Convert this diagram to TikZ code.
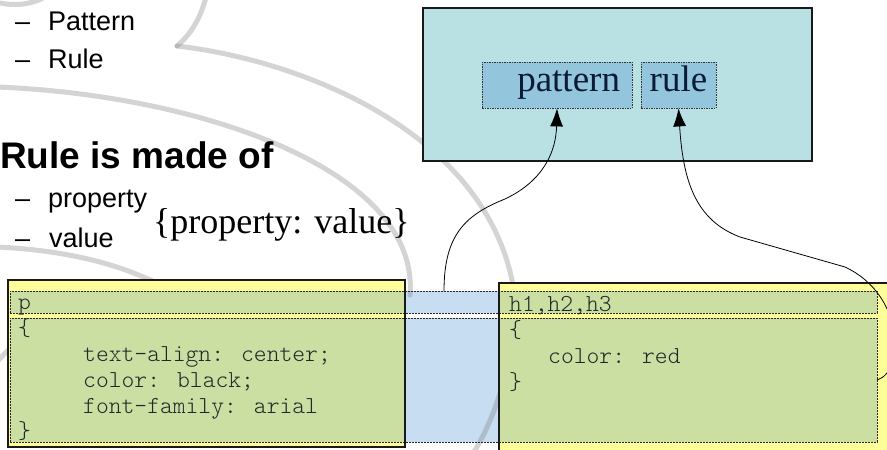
\documentclass[tikz,border=0pt]{standalone}
\usepackage{fontspec}
\setmainfont{Liberation Serif}
\newfontfamily\sansf{Liberation Sans}
\newfontfamily\codef{Latin Modern Mono Light}
\usetikzlibrary{arrows.meta}
\definecolor{tealbg}{HTML}{B9E0E2}
\definecolor{patfill}{HTML}{93C6DD}
\definecolor{yellowbg}{HTML}{FFFF99}
\definecolor{greenbg}{HTML}{CCDFA2}
\definecolor{bluebg}{HTML}{C7DDF2}
\definecolor{navytext}{HTML}{0B1B36}
\definecolor{codegray}{HTML}{1E2A2A}
\begin{document}
\begin{tikzpicture}[x=1pt,y=-1pt,
  bullet/.style={font=\sansf\fontsize{27}{32}\selectfont, anchor=base west, inner sep=0pt},
  heading/.style={font=\sansf\bfseries\fontsize{37}{44}\selectfont, anchor=base west, inner sep=0pt},
  serifbig/.style={font=\fontsize{36}{42}\selectfont, anchor=base west, inner sep=0pt},
  code/.style={font=\codef\fontsize{24.4}{26}\selectfont, anchor=base west, inner sep=0pt, text=codegray},
  wm/.style={draw=gray, line width=5pt, opacity=0.34, line cap=round},
  rowbox/.style={draw=black!85, line width=0.8pt, dash pattern=on 2pt off 1pt},
  holder/.style={rectangle, draw=black!80, line width=0.8pt, dash pattern=on 1.5pt off 1pt,
     fill=patfill, text=navytext, font=\fontsize{37}{42}\selectfont,
     text height=21pt, text depth=8pt, minimum height=46pt},
  conn/.style={draw=black, line width=0.8pt, -{Latex[length=18pt,width=13pt]}}
]
\useasboundingbox (0,0) rectangle (887,450);
\clip (0,0) rectangle (887,450);

% blue strip between the two code boxes
\fill[bluebg] (405,291) rectangle (499,313);
\fill[bluebg] (405,318) rectangle (499,442);

% background watermark arcs
\draw[wm] (0,3) .. controls (15,6) and (30,5) .. (45,-3);
\draw[wm] (206,-3) .. controls (200,20) and (190,35) .. (177,46);
\draw[wm] (177,46) .. controls (300,60) and (480,130) .. (512,280)
          .. controls (520,350) and (495,420) .. (472,455);
\draw[wm] (-3,87) .. controls (200,95) and (420,170) .. (410,295);
\draw[wm] (-3,247) .. controls (60,250) and (120,262) .. (170,290);
\draw[wm] (-3,362) .. controls (3,355) and (8,350) .. (14,345);

% schema box
\node[rectangle, draw=black!90, line width=2.6pt, fill=tealbg,
      minimum width=389pt, minimum height=153pt] (schema) at (617.5,84.5) {};
\node[holder, minimum width=150pt, text width=126pt, inner xsep=12pt, align=right]
      (pattern) at (557,85) {pattern};
\node[holder, minimum width=75pt, inner xsep=2pt] (rule) at (678.5,85) {rule};

% left text
\node[bullet] (d1) at (15,30) {–};
\node[bullet] (t1) at (48,30) {Pattern};
\node[bullet] (d2) at (15,68) {–};
\node[bullet] (t2) at (48,68) {Rule};
\node[heading] (head) at (0,168) {Rule is made of};
\node[bullet] (d3) at (15,207) {–};
\node[bullet] (t3) at (48,207) {property};
\node[bullet] (d4) at (15,247) {–};
\node[bullet] (t4) at (49,247) {value};
\node[serifbig] (syntax) at (153,233) {\{property: value\}};

% code boxes
\fill[yellowbg] (8,280) rectangle (405,447);
\fill[yellowbg] (499,283) rectangle (905,470);
\fill[greenbg] (10,291) rectangle (405,313);
\fill[greenbg] (10,318) rectangle (405,442);
\fill[greenbg] (499,291) rectangle (877,313);
\fill[greenbg] (499,318) rectangle (877,442);
\node[rowbox, minimum width=867pt, minimum height=22pt, inner sep=0pt] (hdr) at (443.5,302) {};
\node[rowbox, minimum width=867pt, minimum height=124pt, inner sep=0pt] (body) at (443.5,380) {};
\node[rectangle, draw=black!90, line width=2.6pt, minimum width=397pt, minimum height=167pt]
      (lbox) at (206.5,363.5) {};
\draw[black!90, line width=2.6pt] (499,470) -- (499,283) -- (905,283);

% code text
\node[code] (c1) at (18,309) {p};
\node[code] (c2) at (18,335) {\{};
\node[code] (c3) at (83,361) {text-align: center;};
\node[code] (c4) at (83,387) {color: black;};
\node[code] (c5) at (83,413) {font-family: arial};
\node[code] (c6) at (18,438) {\}};
\node[code] (r1) at (509,311) {h1,h2,h3};
\node[code] (r2) at (509,337) {\{};
\node[code] (r3) at (548,363) {color: red};
\node[code] (r4) at (509,389) {\}};

% connectors
\coordinate (pstart) at (444,291);
\coordinate (rstart) at (877,380);
\draw[conn] (pstart) .. controls (444,235) and (465,215) .. (505,199)
   .. controls (545,180) and (556,150) .. (pattern.south);
\draw[conn] (rstart) .. controls (905,372) and (905,295) .. (845,267)
   -- (740,237) .. controls (695,220) and (683,180) .. (rule.south);
\end{tikzpicture}
\end{document}
